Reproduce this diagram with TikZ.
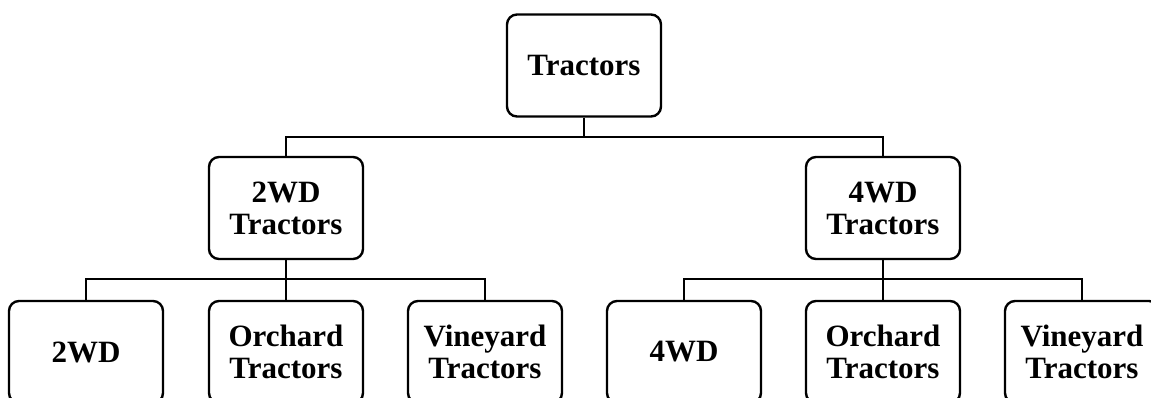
\documentclass[tikz,border=0pt]{standalone}
\usepackage{fontspec}
\setmainfont{Liberation Serif}
\begin{document}
\begin{tikzpicture}[x=1pt,y=-1pt,
  box/.style={draw=black, line width=2.4pt, rounded corners=10pt, minimum width=154pt, minimum height=102pt, align=center, inner sep=0pt,
    font=\fontsize{31}{32}\selectfont\bfseries},
  conn/.style={draw=black, line width=2.4pt}]
\useasboundingbox (0,0) rectangle (1151,397);
\clip (0,0) rectangle (1151,397);
\node[box] (top) at (584,65.5) {Tractors};
\node[box] (m2) at (286,208) {2WD\\Tractors};
\node[box] (m4) at (883,208) {4WD\\Tractors};
\node[box] (b1) at (86,352) {2WD};
\node[box] (b2) at (286,352) {Orchard\\Tractors};
\node[box] (b3) at (485,352) {Vineyard\\Tractors};
\node[box] (b4) at (684,352) {4WD};
\node[box] (b5) at (883,352) {Orchard\\Tractors};
\node[box] (b6) at (1082,352) {Vineyard\\Tractors};
\coordinate (j1) at (584,137);
\coordinate (j2) at (286,279);
\coordinate (j4) at (883,279);
\draw[conn] (top.south) -- (j1);
\draw[conn] (m2.north) |- (j1) -| (m4.north);
\draw[conn] (m2.south) -- (j2);
\draw[conn] (b1.north) |- (j2) -| (b3.north);
\draw[conn] (j2) -- (b2.north);
\draw[conn] (m4.south) -- (j4);
\draw[conn] (b4.north) |- (j4) -| (b6.north);
\draw[conn] (j4) -- (b5.north);
\end{tikzpicture}
\end{document}
